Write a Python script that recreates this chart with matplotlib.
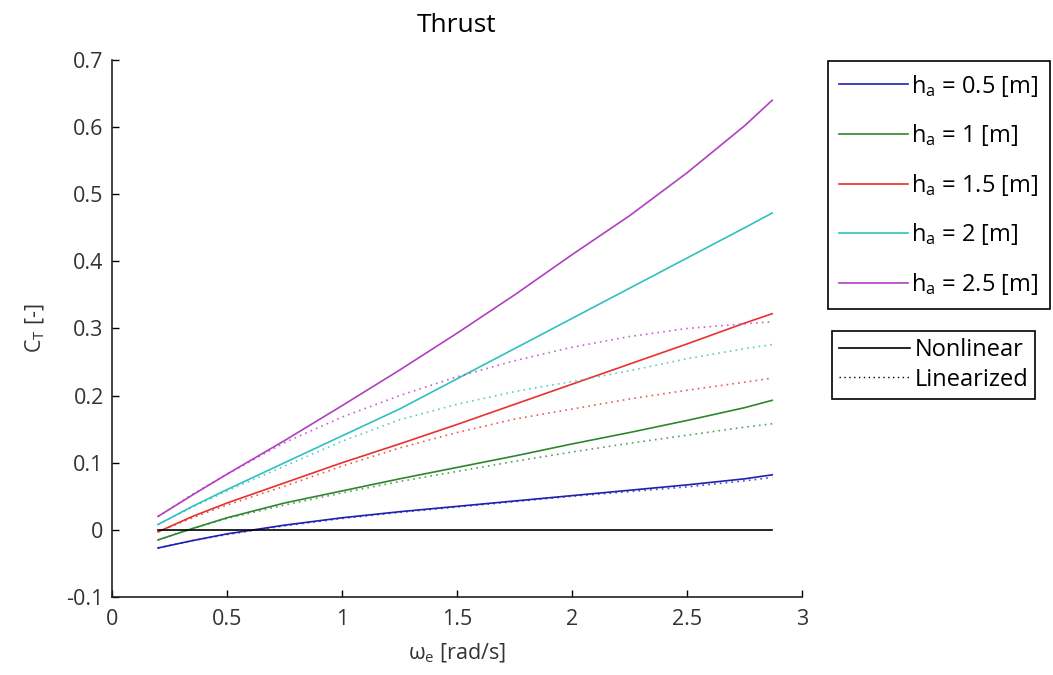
import matplotlib
matplotlib.use("Agg")
import matplotlib.pyplot as plt
from matplotlib.lines import Line2D

# omega_e sample points [rad/s]
omega = [0.2, 0.35, 0.5, 0.75, 1.0, 1.25, 1.5, 1.75, 2.0, 2.25, 2.5, 2.75, 2.87]

heights = ["0.5", "1", "1.5", "2", "2.5"]

# nonlinear thrust coefficient C_T per wave height
ct_nonlin = [
    [-0.027, -0.016, -0.006, 0.007, 0.018, 0.027, 0.035, 0.043, 0.051, 0.059, 0.067, 0.076, 0.082],
    [-0.015, 0.002, 0.018, 0.040, 0.058, 0.076, 0.093, 0.110, 0.128, 0.145, 0.163, 0.182, 0.193],
    [-0.003, 0.020, 0.040, 0.070, 0.100, 0.128, 0.157, 0.187, 0.217, 0.247, 0.277, 0.308, 0.322],
    [0.008, 0.035, 0.060, 0.100, 0.140, 0.180, 0.225, 0.270, 0.315, 0.360, 0.405, 0.450, 0.472],
    [0.020, 0.052, 0.083, 0.133, 0.185, 0.238, 0.293, 0.350, 0.410, 0.468, 0.532, 0.602, 0.640],
]

# linearized thrust coefficient C_T per wave height
ct_lin = [
    [-0.027, -0.016, -0.007, 0.006, 0.017, 0.026, 0.034, 0.042, 0.050, 0.057, 0.064, 0.073, 0.078],
    [-0.015, 0.002, 0.017, 0.037, 0.055, 0.072, 0.087, 0.102, 0.116, 0.129, 0.141, 0.153, 0.158],
    [-0.003, 0.018, 0.037, 0.065, 0.095, 0.122, 0.145, 0.165, 0.180, 0.195, 0.208, 0.220, 0.226],
    [0.008, 0.034, 0.058, 0.095, 0.132, 0.164, 0.187, 0.206, 0.221, 0.237, 0.255, 0.270, 0.276],
    [0.020, 0.053, 0.083, 0.130, 0.168, 0.200, 0.228, 0.252, 0.272, 0.288, 0.300, 0.307, 0.310],
]

zero_line = [0.0] * len(omega)

colors = ["#1f1fb0", "#2e862e", "#e83030", "#30c0c0", "#b040c0"]

plt.rcParams["font.family"] = ["Open Sans", "DejaVu Sans"]
plt.rcParams["mathtext.fontset"] = "custom"
plt.rcParams["mathtext.rm"] = "Open Sans"
plt.rcParams["mathtext.it"] = "Open Sans"

fig = plt.figure(figsize=(10.53, 6.75), dpi=100)
ax = fig.add_axes([0.1064, 0.1156, 0.6553, 0.7955])

dots = (0, (1, 2.5))
for i, h in enumerate(heights):
    ax.plot(omega, ct_nonlin[i], color=colors[i], lw=1.2)
    ax.plot(omega, ct_lin[i], color=colors[i], lw=1.2, ls=dots, alpha=0.8)
ax.plot(omega, zero_line, color="black", lw=1.2)

ax.set_xlim(0, 3)
ax.set_ylim(-0.1, 0.7)
ax.set_xticks([0, 0.5, 1, 1.5, 2, 2.5, 3])
ax.set_xticklabels(["0", "0.5", "1", "1.5", "2", "2.5", "3"])
ax.set_yticks([-0.1, 0, 0.1, 0.2, 0.3, 0.4, 0.5, 0.6, 0.7])
ax.set_yticklabels(["-0.1", "0", "0.1", "0.2", "0.3", "0.4", "0.5", "0.6", "0.7"])
ax.spines["top"].set_visible(False)
ax.spines["right"].set_visible(False)
ax.spines["left"].set_color("#222222")
ax.spines["bottom"].set_color("#222222")
ax.spines["left"].set_linewidth(1.2)
ax.spines["bottom"].set_linewidth(1.2)
ax.tick_params(direction="in", length=5, width=1, labelsize=15.5,
               labelcolor="#333333", pad=9)
ax.tick_params(axis="y", pad=6)

ax.set_title("Thrust", fontsize=19, pad=20)
ax.set_xlabel(r"$\omega_e$ [rad/s]", fontsize=15.5, color="#333333", labelpad=8)
ax.set_ylabel(r"$\mathregular{C_T}$ [-]", fontsize=15.5, color="#333333", labelpad=14)

h_handles = [Line2D([], [], color=c, lw=1.2) for c in colors]
h_labels = [r"$\mathregular{h_a}$ = " + h + " [m]" for h in heights]
leg1 = fig.legend(h_handles, h_labels, loc="upper left",
                  bbox_to_anchor=(0.786, 0.91), fontsize=17, frameon=True,
                  fancybox=False, edgecolor="black", framealpha=1,
                  handlelength=2.9, handletextpad=0.15, labelspacing=1.0,
                  borderpad=0.5, borderaxespad=0)
leg1.get_frame().set_linewidth(1.2)

s_handles = [Line2D([], [], color="black", lw=1.2),
             Line2D([], [], color="black", lw=1.0, ls=dots)]
leg2 = fig.legend(s_handles, ["Nonlinear", "Linearized"], loc="upper left",
                  bbox_to_anchor=(0.790, 0.51), fontsize=17, frameon=True,
                  fancybox=False, edgecolor="black", framealpha=1,
                  handlelength=3.0, handletextpad=0.2, labelspacing=0.25,
                  borderpad=0.3, borderaxespad=0)
leg2.get_frame().set_linewidth(1.2)

fig.savefig("out.png", dpi=100)
